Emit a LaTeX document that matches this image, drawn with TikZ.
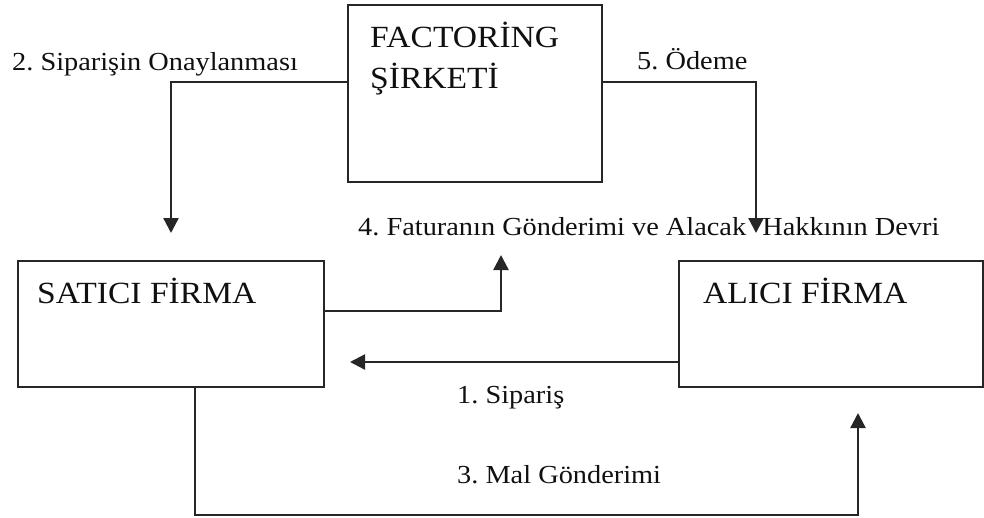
\documentclass[tikz,border=0pt]{standalone}
\usepackage{fontspec}
\setmainfont{Liberation Serif}[FakeStretch=1.09]
\usetikzlibrary{arrows.meta}
\definecolor{linecol}{HTML}{262626}
\definecolor{txtcol}{HTML}{101010}
\tikzset{
  box/.style={draw=linecol, line width=2.3pt, fill=white, inner sep=0pt},
  arr/.style={draw=linecol, line width=2.3pt, -{Triangle[width=15pt,length=15pt]}},
  boxtext/.style={anchor=base west, inner sep=0pt, text=txtcol, font=\fontsize{30.8}{36}\selectfont},
  lbl/.style={anchor=base west, inner sep=0pt, text=txtcol, font=\fontsize{26}{30}\selectfont}
}
\frenchspacing
\begin{document}
\begin{tikzpicture}[x=1pt,y=-1pt]
\useasboundingbox (0,0) rectangle (984,517);
% boxes
\node[box, minimum width=254pt, minimum height=177pt] (fact) at (475,93.5) {};
\node[box, minimum width=306pt, minimum height=126pt] (sat) at (171,324) {};
\node[box, minimum width=304pt, minimum height=126pt] (ali) at (831,324) {};
% box texts
\node[boxtext] (f1) at (370,47) {FACTORİNG};
\node[boxtext] (f2) at (370,88) {ŞİRKETİ};
\node[boxtext] (s1) at (37,303) {SATICI FİRMA};
\node[boxtext] (a1) at (703,303) {ALICI FİRMA};
% helper coordinates
\coordinate (y82) at (0,82);
\coordinate (t2) at (171,233);
\coordinate (t5) at (756,233);
\coordinate (y311) at (0,311);
\coordinate (t4) at (501,255);
\coordinate (y362) at (0,362);
\coordinate (t1) at (350,362);
\coordinate (m1) at (195,515);
\coordinate (m2) at (858,515);
\coordinate (t3) at (858,413);
% connectors
\draw[arr] (fact.west |- y82) -| (t2);
\draw[arr] (fact.east |- y82) -| (t5);
\draw[arr] (sat.east |- y311) -| (t4);
\draw[arr] (ali.west |- y362) -- (t1);
\draw[arr] (sat.south -| m1) -- (m1) -- (m2) -- (t3);
% labels
\node[lbl] (l2) at (12,70) {2. Siparişin Onaylanması};
\node[lbl] (l5) at (637,69) {5. Ödeme};
\node[lbl] (l4) at (358,235) {4. Faturanın Gönderimi ve Alacak\hspace{0.62em}Hakkının Devri};
\node[lbl] (l1) at (457,403) {1. Sipariş};
\node[lbl] (l3) at (457,483) {3. Mal Gönderimi};
\end{tikzpicture}
\end{document}
